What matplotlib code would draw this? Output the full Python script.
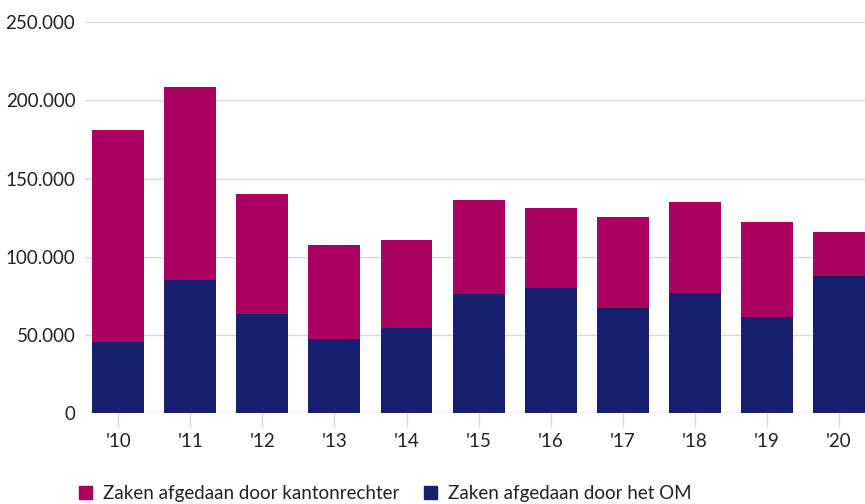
import numpy as np
import matplotlib
matplotlib.use("Agg")
from matplotlib import pyplot as plt
from matplotlib.patches import Patch

years = ["'10", "'11", "'12", "'13", "'14", "'15", "'16", "'17", "'18", "'19", "'20"]
om = [45500, 85200, 63400, 47500, 54700, 76400, 80200, 67500, 76900, 61700, 87700]
kanton = [135500, 123300, 76700, 60000, 56000, 59900, 50900, 57900, 58100, 60500, 28100]

c_kanton = "#AA0061"
c_om = "#16206E"

plt.rcParams['font.family'] = ['Lato', 'DejaVu Sans']

fig = plt.figure(figsize=(8.65, 5.04), dpi=100)
ax = fig.add_axes([0.0983, 0.18, 0.9017, 0.7763])

x = np.arange(len(years))
ax.bar(x, om, width=0.72, color=c_om, zorder=3)
ax.bar(x, kanton, bottom=om, width=0.72, color=c_kanton, zorder=3)

ax.set_ylim(0, 250000)
ax.set_xlim(-0.46, 10.36)
ax.set_yticks(np.arange(0, 250001, 50000))
ax.set_yticklabels(["0" if v == 0 else f"{v // 1000}.000" for v in range(0, 250001, 50000)])
ax.set_xticks(x)
ax.set_xticklabels(years)

ax.grid(axis='y', color='#d9d9d9', linewidth=1, zorder=0)
for s in ax.spines.values():
    s.set_visible(False)
ax.tick_params(axis='y', length=0, pad=7, labelsize=13.5, labelcolor='#222222')
ax.tick_params(axis='x', length=10, width=1, color='#d9d9d9', pad=4, labelsize=13.5,
               labelcolor='#222222', direction='out')

handles = [Patch(color=c_kanton, label="Zaken afgedaan door kantonrechter"),
           Patch(color=c_om, label="Zaken afgedaan door het OM")]
fig.legend(handles=handles, loc='lower left', bbox_to_anchor=(0.072, -0.03), ncol=2,
           frameon=False, fontsize=13.5, handlelength=0.7, handleheight=0.7,
           handletextpad=0.55, columnspacing=1.35, labelcolor='#222222')

fig.savefig("out.png", dpi=100)
